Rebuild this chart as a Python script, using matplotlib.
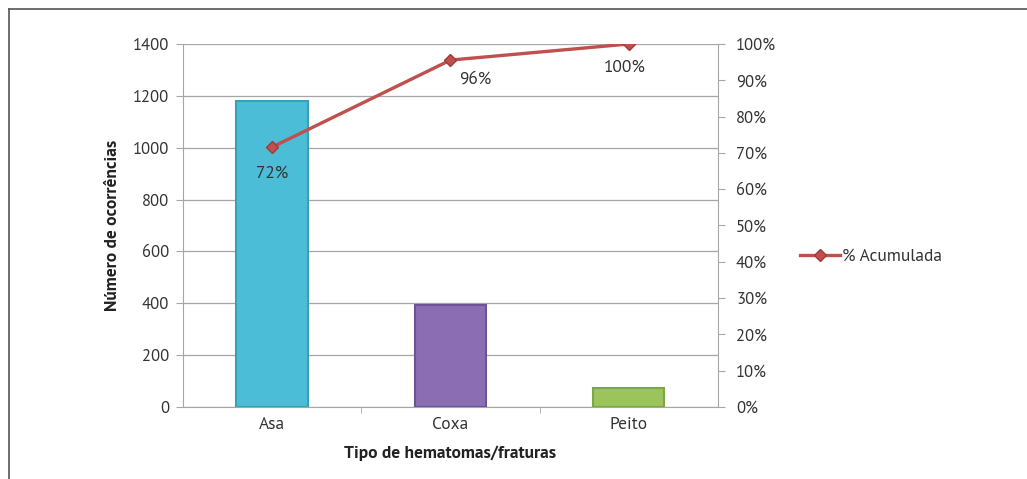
import matplotlib
matplotlib.use("Agg")
import matplotlib.pyplot as plt
from matplotlib.lines import Line2D
import numpy as np

categories = ["Asa", "Coxa", "Peito"]
ocorrencias = [1180, 395, 73]
acumulada_labels = ["72%", "96%", "100%"]
bar_colors = ["#4BBDD6", "#8A6DB3", "#9BC45A"]
bar_edges = ["#3A9FB8", "#6E5296", "#7DA646"]
line_color = "#C0504D"

plt.rcParams['font.family'] = ['PT Sans', 'PT Sans Narrow', 'DejaVu Sans']

fig = plt.figure(figsize=(10.27, 4.79), dpi=100)
fig.patch.set_facecolor("white")
ax = fig.add_axes([183/1027, 1-407/479, (718-183)/1027, (407-44)/479])

x = np.arange(len(categories))
ax.bar(x, ocorrencias, width=0.4, color=bar_colors, edgecolor=bar_edges, linewidth=1.5, zorder=3)
ax.set_xlim(-0.5, 2.5)
ax.set_ylim(0, 1400)
ax.set_yticks(range(0, 1401, 200))
ax.yaxis.grid(True, color="#A6A6A6", linewidth=0.9, zorder=0)
ax.set_axisbelow(True)
ax.set_xticks(x)
ax.set_xticklabels(categories, fontsize=12.5, color="#333333")
ax.set_xticks([0.5, 1.5], minor=True)
ax.tick_params(axis='x', which='major', length=0, pad=7)
ax.tick_params(axis='x', which='minor', length=4, color="#A6A6A6")
ax.tick_params(axis='y', length=5, color="#A6A6A6", labelsize=12, labelcolor="#333333", pad=5)
for s in ["top", "right"]:
    ax.spines[s].set_visible(False)
ax.spines["left"].set_color("#A6A6A6")
ax.spines["bottom"].set_color("#A6A6A6")
ax.set_ylabel("Número de ocorrências", fontsize=12.5, fontweight="bold", color="#222222", labelpad=9)
ax.set_xlabel("Tipo de hematomas/fraturas", fontsize=12.5, fontweight="bold", color="#222222", labelpad=9)

total = sum(ocorrencias)
cum = np.cumsum(ocorrencias) / total * 100

ax2 = ax.twinx()
ax2.set_ylim(0, 100)
ax2.set_yticks(range(0, 101, 10))
ax2.set_yticklabels([f"{v}%" for v in range(0, 101, 10)])
ax2.tick_params(axis='y', length=5, color="#A6A6A6", labelsize=12, labelcolor="#333333", pad=8)
for s in ["top", "left", "bottom"]:
    ax2.spines[s].set_visible(False)
ax2.spines["right"].set_color("#A6A6A6")
ln, = ax2.plot(x, cum, color=line_color, linewidth=2.4, marker="D", markersize=6,
               markerfacecolor=line_color, markeredgecolor="#A03A37", zorder=5, label="% Acumulada")
offsets = [(0, -19), (18, -14), (-3, -17)]
for xi, yi, lab, off in zip(x, cum, acumulada_labels, offsets):
    ax2.annotate(lab, (xi, yi), xytext=off, textcoords="offset points",
                 ha="center", va="center", fontsize=12.5, color="#333333")

fig.legend(handles=[ln], loc="center left", bbox_to_anchor=(800/1027, 1-257/479),
           frameon=False, fontsize=12.5, handlelength=2.3, handletextpad=0.1,
           borderpad=0, borderaxespad=0, labelcolor="#333333")

fig.add_artist(Line2D([9/1027, 1.0], [1-9/479, 1-9/479], color="#555555", linewidth=1.2, transform=fig.transFigure))
fig.add_artist(Line2D([9/1027, 9/1027], [0, 1-9/479], color="#555555", linewidth=1.2, transform=fig.transFigure))

fig.savefig("out.png", dpi=100, facecolor="white")
